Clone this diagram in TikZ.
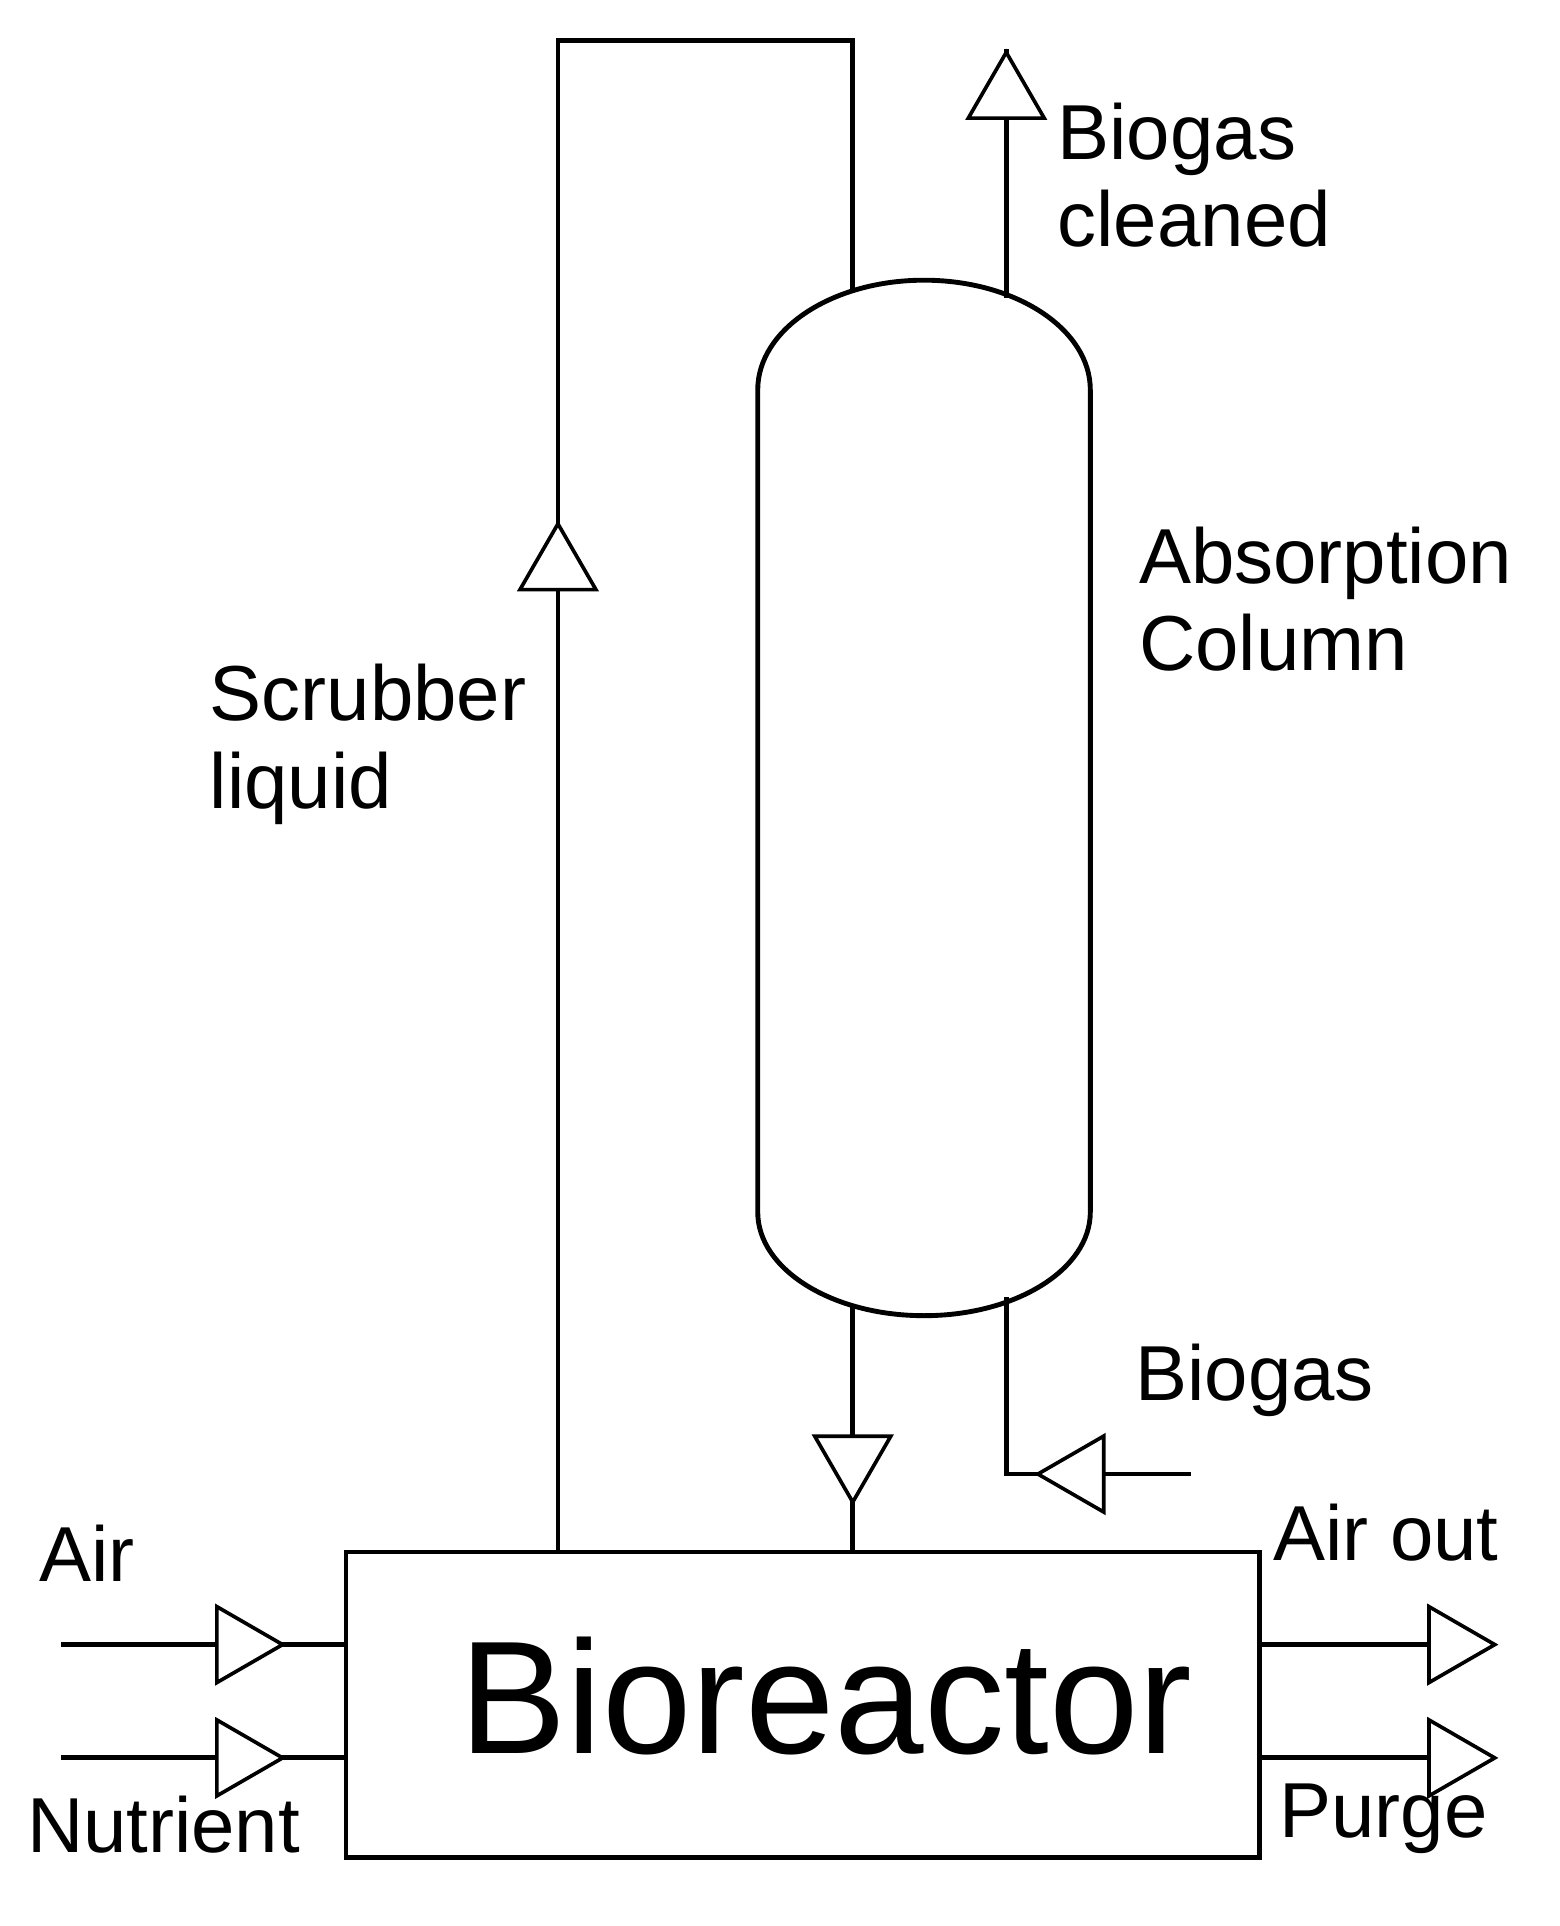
\documentclass[tikz,border=0pt]{standalone}
\usepackage{fontspec}
\setmainfont{Liberation Sans}
\usetikzlibrary{shapes.geometric}
\tikzset{
  flow/.style={line width=4pt},
  tri/.style={isosceles triangle, draw, fill=white, line width=3pt, inner sep=0pt,
    minimum height=54pt, minimum width=62pt, isosceles triangle apex angle=60},
  lbl/.style={font=\fontsize{64}{72}\selectfont, align=left, inner sep=0pt}
}
\begin{document}
\begin{tikzpicture}[x=1pt,y=1pt,yscale=-1]
\useasboundingbox (0,0) rectangle (1280,1581);

%Bioreactor
\node (bio) [draw, line width=4pt, minimum width=750pt, minimum height=251pt, inner sep=0pt,
  anchor=north west] at (282,1272) {};
\node (biotxt) [inner sep=0pt] at (678,1392) {\fontsize{132}{140}\selectfont Bioreactor};

%Absorption column
\draw [flow] (622,320) arc[start angle=180, end angle=360, x radius=136.5, y radius=90]
  -- (895,995) arc[start angle=0, end angle=180, x radius=136.5, y radius=85] -- cycle;

%Scrubber loop
\coordinate (s1) at (458,1272);
\coordinate (s2) at (458,33);
\coordinate (s3) at (700,33);
\coordinate (s4) at (700,240);
\draw [flow] (s1) -- (s2) -- (s3) -- (s4);
\node (tscrub) [tri, shape border rotate=90] at (458,466) {};

%Biogas cleaned
\coordinate (c1) at (826,245);
\coordinate (c2) at (826,40);
\draw [flow] (c1) -- (c2);
\node (tclean) [tri, shape border rotate=90, anchor=apex] at (c2) {};

%Column to bioreactor
\coordinate (d1) at (700,1070);
\coordinate (d2) at (700,1272);
\draw [flow] (d1) -- (d2);
\node (tdown) [tri, shape border rotate=270] at (700,1197) {};

%Biogas in
\coordinate (g1) at (826,1065);
\coordinate (g2) at (826,1210);
\coordinate (g3) at (978,1210);
\draw [flow] (g1) -- (g2) -- (g3);
\node (tgas) [tri, shape border rotate=180] at (888,1210) {};

%Feeds and outlets
\foreach \y/\n in {1350/air,1443/nut}{
  \coordinate (\n0) at (50,\y);
  \draw [flow] (\n0) -- (282,\y);
  \node (t\n) [tri] at (196,\y) {};
}
\foreach \y/\n in {1350/aout,1443/purge}{
  \coordinate (\n0) at (1032,\y);
  \draw [flow] (\n0) -- (1175,\y);
  \node (t\n) [tri, anchor=apex] at (1230,\y) {};
}

% Text Nodes
\node (lclean) [lbl, anchor=north west] at (868,84) {Biogas\\cleaned};
\node (lcol) [lbl, anchor=north west] at (935,432) {Absorption\\Column};
\node (lscrub) [lbl, anchor=north west] at (172,545) {Scrubber\\liquid};
\node (lgas) [lbl, anchor=north west] at (932,1103) {Biogas};
\node (lair) [lbl, anchor=north west] at (32,1252) {Air};
\node (lnut) [lbl, anchor=north west] at (22,1474) {Nutrient};
\node (laout) [lbl, anchor=north west] at (1045,1234) {Air out};
\node (lpurge) [lbl, anchor=north west] at (1050,1464) {Purge};
\end{tikzpicture}
\end{document}
